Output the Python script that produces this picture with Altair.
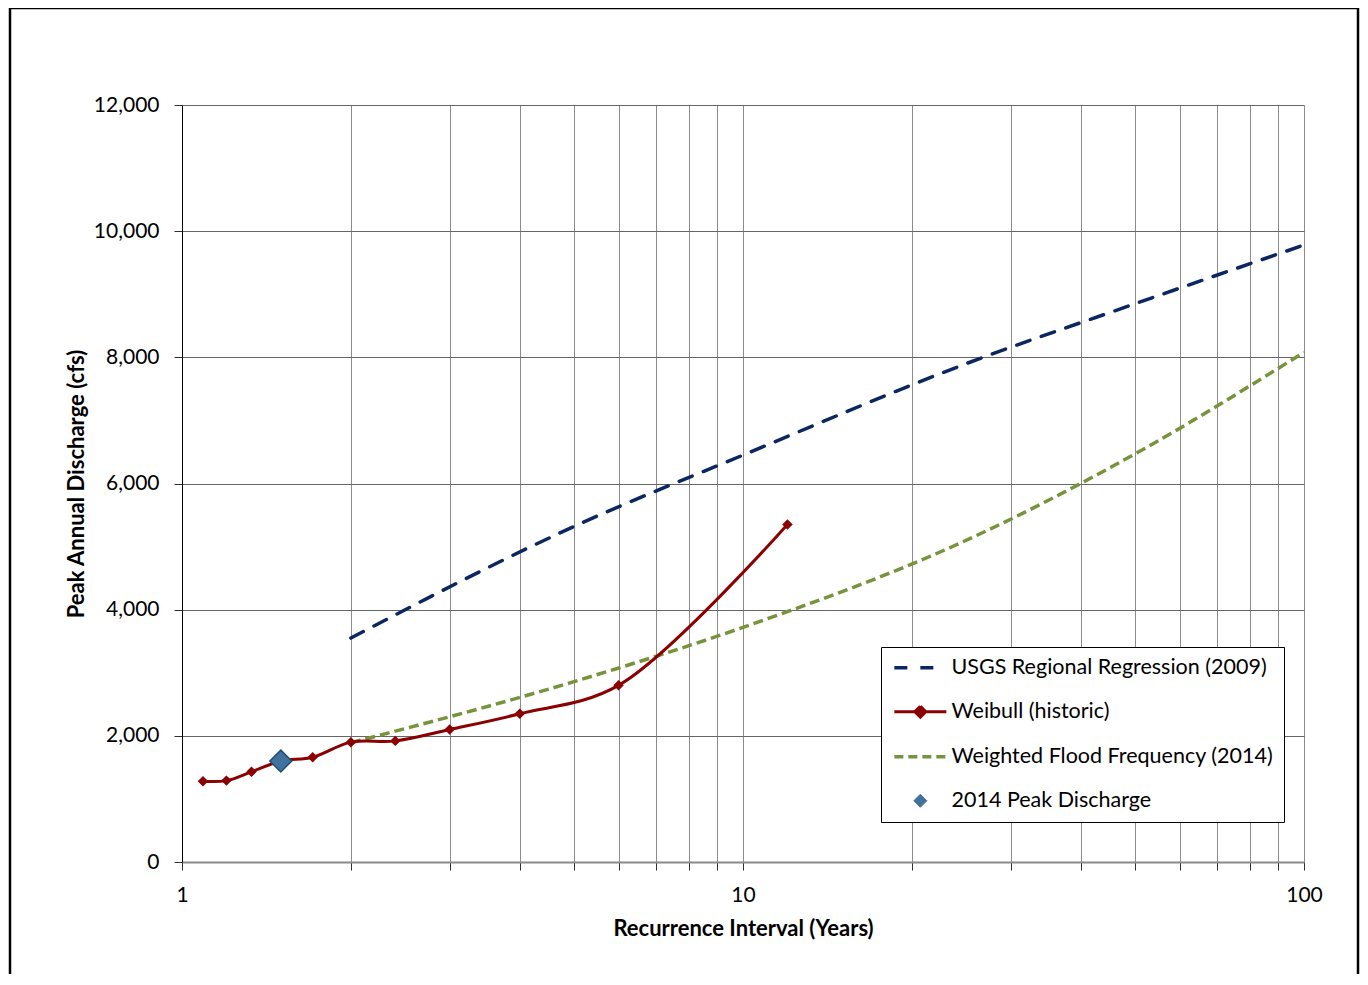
import altair as alt
import pandas as pd

# ---- data ----
U = "USGS Regional Regression (2009)"
W = "Weibull (historic)"
F = "Weighted Flood Frequency (2014)"
P = "2014 Peak Discharge"

usgs_T = [2, 5, 10, 25, 50, 100]
usgs_Q = [3550, 5320, 6450, 7900, 8850, 9780]

wff_T = [2, 5, 10, 25, 50, 100]
wff_Q = [1890, 2860, 3720, 5100, 6470, 8080]

weib_T = [1.09, 1.2, 1.33, 1.5, 1.71, 2, 2.4, 3, 4, 6, 12]
weib_Q = [1280, 1290, 1430, 1600, 1660, 1900, 1920, 2100, 2350, 2800, 5350]

peak_T = [1.5]
peak_Q = [1600]

x_ticks = [1, 2, 3, 4, 5, 6, 7, 8, 9, 10, 20, 30, 40, 50, 60, 70, 80, 90, 100]
x_labeled = [1, 10, 100]
y_ticks = [0, 2000, 4000, 6000, 8000, 10000, 12000]

series_names = [U, W, F, P]
series_colors = ["#0b2763", "#8b0000", "#77933c", "#41729f"]

df_usgs = pd.DataFrame({"T": usgs_T, "Q": usgs_Q, "series": U})
df_wff = pd.DataFrame({"T": wff_T, "Q": wff_Q, "series": F})
df_weib = pd.DataFrame({"T": weib_T, "Q": weib_Q, "series": W})
df_peak = pd.DataFrame({"T": peak_T, "Q": peak_Q, "series": P})

FONT = "Lato"

lab_cond = " || ".join(f"datum.value == {v}" for v in x_labeled)

x_enc = alt.X(
    "T:Q",
    scale=alt.Scale(type="log", domain=[1, 100], nice=False),
    axis=alt.Axis(
        values=x_ticks,
        format="d",
        labelExpr=f"({lab_cond}) ? datum.label : ''",
        grid=True,
        gridColor="#8c8c8c",
        gridWidth=1,
        tickColor="#303030",
        tickSize=8,
        domainColor="#8a8a8a",
        domainWidth=2,
        labelPadding=14,
        labelFlush=False,
        titlePadding=13,
    ),
    title="Recurrence Interval (Years)",
)
y_enc = alt.Y(
    "Q:Q",
    scale=alt.Scale(domain=[0, 12000], nice=False),
    axis=alt.Axis(
        values=y_ticks,
        labelExpr="format(datum.value, ',.0f')",
        grid=True,
        gridColor="#666666",
        gridWidth=1,
        tickColor="#303030",
        tickSize=8,
        domainColor="#000000",
        domainWidth=1,
        labelPadding=15,
        titlePadding=5,
    ),
    title="Peak Annual Discharge (cfs)",
)

sym_path_line = "M-0.57,0H3.43"
sym_path_weib = "M-0.57,0H3.43M1.43,-0.42L1.85,0L1.43,0.42L1.01,0Z"
sym_path_peak = "M1.43,-0.5L1.93,0L1.43,0.5L0.93,0Z"

legend = alt.Legend(
    title=None,
    orient="none",
    legendX=699,
    legendY=542,
    direction="vertical",
    symbolSize=676,
    symbolType=alt.ExprRef(expr=f"datum.value == '{W}' ? '{sym_path_weib}' : datum.value == '{P}' ? '{sym_path_peak}' : '{sym_path_line}'"),
    symbolStrokeColor=alt.ExprRef(expr=f"datum.value == '{U}' ? '#0b2763' : datum.value == '{W}' ? '#8b0000' : datum.value == '{F}' ? '#77933c' : '#1f4e79'"),
    symbolFillColor=alt.ExprRef(expr=f"datum.value == '{W}' ? '#8b0000' : datum.value == '{P}' ? '#41729f' : 'transparent'"),
    symbolStrokeWidth=alt.ExprRef(expr=f"datum.value == '{P}' ? 1 : datum.value == '{W}' ? 3 : 3.5"),
    symbolDash=alt.ExprRef(expr=f"datum.value == '{U}' ? [13, 13] : datum.value == '{F}' ? [9, 5] : [1000, 0]"),
    symbolOpacity=1,
    labelFont=FONT,
    labelFontSize=21.5,
    labelColor="#000000",
    labelOffset=39,
    labelLimit=500,
    labelExpr="datum.label + '\u00a0'",
    rowPadding=21,
    padding=10,
    strokeColor="#000000",
    fillColor="#ffffff",
)

color_enc = alt.Color(
    "series:N",
    scale=alt.Scale(domain=series_names, range=series_colors),
    legend=legend,
)

# decorative outer frame (as in the original figure)
frame = alt.Chart(pd.DataFrame({"k": [0]})).mark_rect(
    fill="#ffffff", fillOpacity=0, stroke="#000000", strokeWidth=2.5, clip=False
).encode(
    x=alt.value(-172), x2=alt.value(1176), y=alt.value(-97), y2=alt.value(900)
)

wff = alt.Chart(df_wff).mark_line(interpolate="monotone").encode(
    x=x_enc, y=y_enc, color=color_enc,
    strokeDash=alt.value([10, 5]), strokeWidth=alt.value(3.5),
)

usgs = alt.Chart(df_usgs).mark_line(strokeCap="round", interpolate="monotone").encode(
    x=x_enc, y=y_enc, color=color_enc,
    strokeDash=alt.value([14, 12]), strokeWidth=alt.value(3.5),
)

weib_line = alt.Chart(df_weib).mark_line(interpolate="catmull-rom").encode(
    x=x_enc, y=y_enc, color=color_enc, strokeWidth=alt.value(3),
)

weib_pts = alt.Chart(df_weib).mark_point(shape="diamond", filled=True, size=110, opacity=1).encode(
    x=x_enc, y=y_enc, color=color_enc,
)

peak = alt.Chart(df_peak).mark_point(shape="diamond", filled=True, size=480, opacity=1).encode(
    x=x_enc, y=y_enc, color=color_enc,
    stroke=alt.value("#1f4e79"), strokeWidth=alt.value(1.5),
)

chart = (
    alt.layer(frame, wff, usgs, weib_line, weib_pts, peak)
    .properties(
        width=1122,
        height=757,
        autosize=alt.AutoSizeParams(type="none"),
        padding={"left": 174, "top": 97, "right": 56, "bottom": 112},
        background="#ffffff",
    )
    .configure_view(stroke=None)
    .configure_axis(
        labelFont=FONT,
        labelFontSize=21,
        labelColor="#000000",
        titleFont=FONT,
        titleFontSize=22,
        titleFontWeight="bold",
        titleColor="#000000",
    )
)

chart.save("out.html", embed_options={"renderer": "svg", "actions": False})
